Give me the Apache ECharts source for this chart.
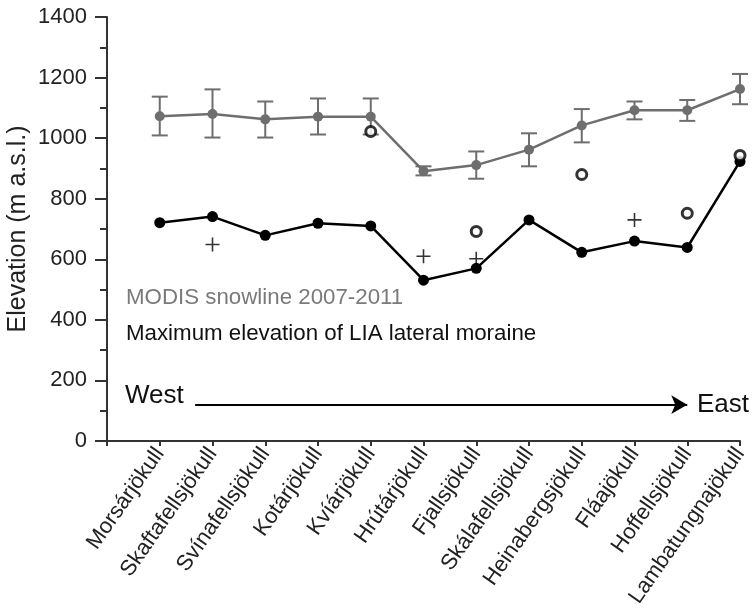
<!DOCTYPE html>
<html>
<head>
<meta charset="utf-8">
<script src="https://cdn.jsdelivr.net/npm/echarts@6/dist/echarts.min.js"></script>
<style>
  html, body { margin: 0; padding: 0; background: #fff; }
  #chart { width: 752px; height: 614px; }
</style>
</head>
<body>
<div id="chart"></div>
<script>
// glaciers, west to east
const glaciers = ['Morsárjökull', 'Skaftafellsjökull', 'Svínafellsjökull', 'Kotárjökull', 'Kvíárjökull',
  'Hrútárjökull', 'Fjallsjökull', 'Skálafellsjökull', 'Heinabergsjökull', 'Fláajökull',
  'Hoffellsjökull', 'Lambatungnajökull']

// MODIS snowline 2007-2011 (mean, upper and lower error bar)
const snowline = [1072, 1080, 1062, 1071, 1071, 891, 911, 962, 1042, 1092, 1092, 1162]
const snowHigh = [1137, 1161, 1121, 1131, 1131, 907, 956, 1016, 1096, 1121, 1126, 1212]
const snowLow = [1009, 1002, 1002, 1012, 1012, 877, 866, 907, 986, 1062, 1057, 1112]

// maximum elevation of LIA lateral moraine
const moraine = [721, 741, 679, 719, 710, 531, 570, 730, 623, 660, 639, 923]

// extra markers (index, value)
const plusPts = [[1, 649], [5, 610], [6, 602], [9, 730]]
const ringPts = [[4, 1022], [6, 692], [8, 880], [10, 752], [11, 943]]

const FONT = 'Liberation Sans, Arial, sans-serif'
const GRAY = '#6e6e6e'

const chart = echarts.init(document.getElementById('chart'))

const pos = (arr) => arr.map((v, i) => [i + 1, v])
const errData = snowline.map((v, i) => [i + 1, snowLow[i], snowHigh[i]])

chart.setOption({
  animation: false,
  grid: { left: 107, right: 12, top: 17, bottom: 173, containLabel: false, outerBoundsMode: 'none' },
  xAxis: {
    type: 'value',
    min: 0,
    max: 12,
    interval: 1,
    splitLine: { show: false },
    axisLine: { show: true, lineStyle: { color: '#333', width: 2 } },
    axisTick: { show: true, length: 5, lineStyle: { color: '#333', width: 2 } },
    axisLabel: {
      rotate: 55,
      margin: 9,
      fontFamily: FONT,
      fontSize: 22,
      color: '#222',
      formatter: (v) => (v >= 1 && v <= 12 ? glaciers[v - 1] : '')
    }
  },
  yAxis: {
    type: 'value',
    min: 0,
    max: 1400,
    interval: 200,
    name: 'Elevation (m a.s.l.)',
    nameLocation: 'middle',
    nameGap: 76,
    nameMoveOverlap: false,
    nameTextStyle: { fontFamily: FONT, fontSize: 25, color: '#222' },
    splitLine: { show: false },
    axisLine: { show: true, lineStyle: { color: '#333', width: 2 } },
    axisTick: { show: true, length: 12, lineStyle: { color: '#333', width: 2 } },
    minorTick: { show: true, splitNumber: 2, length: 7, lineStyle: { color: '#333', width: 2 } },
    axisLabel: { margin: 20, fontFamily: FONT, fontSize: 22, color: '#222', formatter: (v) => String(v) }
  },
  graphic: [
    { type: 'text', left: 126, top: 287, style: { text: 'MODIS snowline 2007-2011', fill: '#7a7a7a', font: '22.3px ' + FONT } },
    { type: 'text', left: 126, top: 323, style: { text: 'Maximum elevation of LIA lateral moraine', fill: '#111', font: '22.3px ' + FONT } },
    { type: 'text', left: 125, top: 383, style: { text: 'West', fill: '#111', font: '26px ' + FONT } },
    { type: 'text', left: 697, top: 392, style: { text: 'East', fill: '#111', font: '26px ' + FONT } }
  ],
  series: [
    {
      type: 'custom',
      name: 'error',
      data: errData,
      z: 2,
      renderItem: function (params, api) {
        const x = api.value(0)
        const lo = api.coord([x, api.value(1)])
        const hi = api.coord([x, api.value(2)])
        const hw = 8
        const st = { stroke: GRAY, lineWidth: 2 }
        return {
          type: 'group',
          children: [
            { type: 'line', shape: { x1: lo[0], y1: lo[1], x2: hi[0], y2: hi[1] }, style: st },
            { type: 'line', shape: { x1: lo[0] - hw, y1: lo[1], x2: lo[0] + hw, y2: lo[1] }, style: st },
            { type: 'line', shape: { x1: hi[0] - hw, y1: hi[1], x2: hi[0] + hw, y2: hi[1] }, style: st }
          ]
        }
      }
    },
    {
      type: 'line',
      name: 'MODIS snowline 2007-2011',
      data: pos(snowline),
      symbol: 'circle',
      symbolSize: 10,
      z: 3,
      itemStyle: { color: GRAY },
      lineStyle: { color: GRAY, width: 2.5 }
    },
    {
      type: 'line',
      name: 'Maximum elevation of LIA lateral moraine',
      data: pos(moraine),
      symbol: 'circle',
      symbolSize: 11,
      z: 3,
      itemStyle: { color: '#000' },
      lineStyle: { color: '#000', width: 2.5 },
      markLine: {
        silent: true,
        symbol: ['none', 'arrow'],
        symbolSize: [14, 16],
        label: { show: false },
        lineStyle: { color: '#000', width: 2, type: 'solid' },
        data: [[{ coord: [1.67, 120] }, { coord: [11, 120] }]]
      }
    },
    {
      type: 'scatter',
      name: 'plus',
      data: plusPts.map((p) => [p[0] + 1, p[1]]),
      symbol: 'path://M7,0 L7,14 M0,7 L14,7',
      symbolSize: 14,
      itemStyle: { color: 'none', borderColor: '#000', borderWidth: 1.6 },
      z: 4
    },
    {
      type: 'scatter',
      name: 'ring',
      data: ringPts.map((p) => [p[0] + 1, p[1]]),
      symbol: 'circle',
      symbolSize: 10,
      itemStyle: { color: '#fff', borderColor: '#000', borderWidth: 3 },
      z: 4
    }
  ]
})
</script>
</body>
</html>
